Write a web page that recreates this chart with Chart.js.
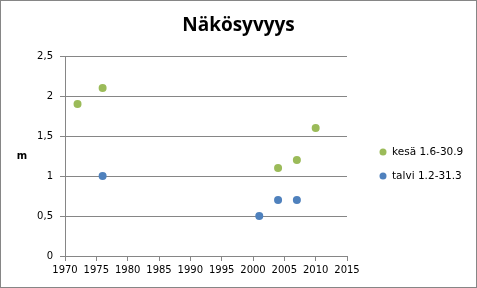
<!DOCTYPE html>
<html>
<head>
<meta charset="utf-8">
<script src="https://cdn.jsdelivr.net/npm/chart.js@4.4.0/dist/chart.umd.min.js"></script>
<style>
  html, body { margin: 0; padding: 0; background: #fff; }
  #wrap { width: 477px; height: 288px; position: relative; }
</style>
</head>
<body>
<div id="wrap"><canvas id="c"></canvas></div>
<script>
// vuodet ja arvot luettu kuvasta
const kesaYears = [1972, 1976, 2004, 2007, 2010];
const kesaValues = [1.9, 2.1, 1.1, 1.2, 1.6];
const talviYears = [1976, 2001, 2004, 2007];
const talviValues = [1.0, 0.5, 0.7, 0.7];
const seriesLabels = ['kesä 1.6-30.9', 'talvi 1.2-31.3'];
const xTicks = [1970, 1975, 1980, 1985, 1990, 1995, 2000, 2005, 2010, 2015];
const yTicks = [0, 0.5, 1, 1.5, 2, 2.5];
const chartTitle = 'Näkösyvyys';

const toPoints = (xs, ys) => xs.map((x, i) => ({ x: x, y: ys[i] }));

// kehys, otsikko, akselin nimi "m" ja selite oikealle
const extras = {
  id: 'extras',
  beforeDraw(chart) {
    const ctx = chart.ctx;
    ctx.save();
    ctx.fillStyle = '#fff';
    ctx.fillRect(0, 0, chart.width, chart.height);
    ctx.restore();
  },
  afterDraw(chart) {
    const ctx = chart.ctx;
    const a = chart.chartArea;
    ctx.save();
    ctx.strokeStyle = '#868686';
    ctx.lineWidth = 1;
    ctx.strokeRect(0.5, 0.5, chart.width - 1, chart.height - 1);

    ctx.fillStyle = '#000';
    ctx.textAlign = 'center';
    ctx.textBaseline = 'middle';
    ctx.font = 'bold 19px "Open Sans"';
    ctx.fillText(chartTitle, chart.width / 2, 26);

    ctx.font = 'bold 10px "DejaVu Sans"';
    ctx.fillText('m', 22, (a.top + a.bottom) / 2);

    // selite
    const lx = a.right + 36;
    const ly = (a.top + a.bottom) / 2 - 4;
    ctx.font = '10.5px "DejaVu Sans"';
    ctx.textAlign = 'left';
    chart.data.datasets.forEach((ds, i) => {
      const y = ly + i * 24;
      ctx.fillStyle = ds.backgroundColor;
      ctx.beginPath();
      ctx.arc(lx, y, 3.5, 0, Math.PI * 2);
      ctx.fill();
      ctx.fillStyle = '#000';
      ctx.fillText(ds.label, lx + 9, y);
    });
    ctx.restore();
  }
};

new Chart(document.getElementById('c'), {
  type: 'scatter',
  data: {
    datasets: [
      { label: seriesLabels[0], data: toPoints(kesaYears, kesaValues), backgroundColor: '#9bbb59', borderColor: '#9bbb59', borderWidth: 0, pointRadius: 4, pointHoverRadius: 4 },
      { label: seriesLabels[1], data: toPoints(talviYears, talviValues), backgroundColor: '#4f81bd', borderColor: '#4f81bd', borderWidth: 0, pointRadius: 4, pointHoverRadius: 4 }
    ]
  },
  options: {
    responsive: true,
    maintainAspectRatio: false,
    animation: false,
    layout: { padding: { left: 10, right: 130, bottom: 9, top: 56 } },
    plugins: {
      title: { display: false },
      legend: { display: false },
      tooltip: { enabled: false }
    },
    scales: {
      x: {
        type: 'linear',
        min: 1970,
        max: 2015,
        afterBuildTicks(scale) { scale.ticks = xTicks.map(v => ({ value: v })); },
        ticks: {
          color: '#000',
          font: { family: 'DejaVu Sans', size: 10 },
          padding: 3,
          maxRotation: 0,
          autoSkip: false,
          callback: v => String(v)
        },
        grid: { drawOnChartArea: false, drawTicks: true, tickLength: 5, tickColor: '#868686' },
        border: { display: true, color: '#868686' }
      },
      y: {
        min: 0,
        max: 2.5,
        afterBuildTicks(scale) { scale.ticks = yTicks.map(v => ({ value: v })); },
        afterFit(scale) { scale.width = 55; },
        ticks: {
          color: '#000',
          font: { family: 'DejaVu Sans', size: 10 },
          padding: 7,
          callback: v => String(v).replace('.', ',')
        },
        grid: { color: '#868686', drawTicks: true, tickLength: 5, tickColor: '#868686' },
        border: { display: true, color: '#868686' }
      }
    }
  },
  plugins: [extras]
});
</script>
</body>
</html>
